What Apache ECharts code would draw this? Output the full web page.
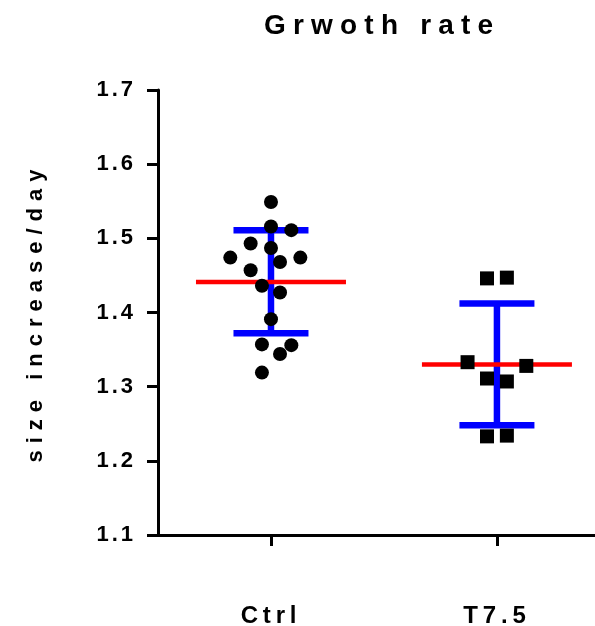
<!DOCTYPE html>
<html>
<head>
<meta charset="utf-8">
<script src="https://cdn.jsdelivr.net/npm/echarts@6/dist/echarts.min.js"></script>
<style>html,body{margin:0;padding:0;background:#fff}#c{width:595px;height:626px}</style>
</head>
<body>
<div id="c"></div>
<script>
// Letter spacing support: a font family token "lspN_M" sets N.M px spacing.
(function(){
  var P = CanvasRenderingContext2D.prototype;
  var of = P.fillText, om = P.measureText;
  function ap(ctx){ var m = /lsp(\d+)(?:_(\d+))?/.exec(ctx.font); ctx.letterSpacing = m ? (m[1] + (m[2] ? '.' + m[2] : '')) + 'px' : '0px'; }
  P.fillText = function(){ ap(this); return of.apply(this, arguments); };
  P.measureText = function(){ ap(this); return om.apply(this, arguments); };
})();

var titleText = 'Grwoth rate';
var yAxisName = 'size increase/day';
var categories = ['Ctrl', 'T7.5'];
var yTicks = { min: 1.1, max: 1.7, step: 0.1 };

var ctrlValues = [1.549, 1.516, 1.511, 1.493, 1.487, 1.474, 1.474, 1.468, 1.457, 1.436, 1.427, 1.391, 1.357, 1.356, 1.344, 1.319];
var ctrlJitter = [0, 0, 0.09, -0.09, 0, -0.18, 0.13, 0.04, -0.09, -0.04, 0.04, 0, -0.04, 0.09, 0.04, -0.04];
var t75Values = [1.446, 1.447, 1.333, 1.328, 1.311, 1.307, 1.233, 1.234];
var t75Jitter = [-0.044, 0.044, -0.13, 0.13, -0.044, 0.044, -0.044, 0.044];

var means = [1.441, 1.330];
var errLow = [1.372, 1.248];
var errHigh = [1.511, 1.412];

var FONT = "'Liberation Sans', Arial";
function ff(sp){ return FONT + ', lsp' + String(sp).replace('.', '_'); }

var ctrlData = ctrlValues.map(function(v, i){ return [1 + ctrlJitter[i], v]; });
var t75Data = t75Values.map(function(v, i){ return [2 + t75Jitter[i], v]; });
var errData = categories.map(function(c, i){ return [i + 1, errLow[i], errHigh[i]]; });
var meanData = categories.map(function(c, i){ return [i + 1, means[i]]; });

var chart = echarts.init(document.getElementById('c'), null, { renderer: 'canvas' });
chart.setOption({
  animation: false,
  backgroundColor: '#fff',
  title: {
    text: titleText,
    left: 264, top: 9, padding: 0,
    textStyle: { fontFamily: ff(7.2), fontSize: 28, fontWeight: 'bold', color: '#000' }
  },
  grid: { left: 158, right: 0, top: 90, bottom: 91, containLabel: false, outerBoundsMode: 'none' },
  xAxis: {
    type: 'value', min: 0.5, max: 2.434,
    splitLine: { show: false },
    axisLine: { show: true, lineStyle: { color: '#000', width: 3 } },
    axisTick: { show: true, customValues: [1, 2], length: 11, lineStyle: { color: '#000', width: 3 } },
    axisLabel: {
      customValues: [1, 2], margin: 67,
      formatter: function(v){ return categories[Math.round(v) - 1] || ''; },
      fontFamily: ff(4.8), fontSize: 24, fontWeight: 'bold', color: '#000'
    }
  },
  yAxis: {
    type: 'value', min: yTicks.min, max: yTicks.max, interval: yTicks.step,
    name: yAxisName, nameLocation: 'middle', nameRotate: 90, nameGap: 108,
    nameTextStyle: { fontFamily: ff(7), fontSize: 22, fontWeight: 'bold', color: '#000' },
    splitLine: { show: false },
    axisLine: { show: true, lineStyle: { color: '#000', width: 3 } },
    axisTick: { show: true, length: 11, lineStyle: { color: '#000', width: 3 } },
    axisLabel: {
      margin: 22,
      formatter: function(v){ return v.toFixed(1); },
      fontFamily: ff(3), fontSize: 22, fontWeight: 'bold', color: '#000'
    }
  },
  series: [
    { type: 'scatter', data: ctrlData, symbol: 'circle', symbolSize: 14, itemStyle: { color: '#000', opacity: 1 } },
    { type: 'scatter', data: t75Data, symbol: 'rect', symbolSize: 14, itemStyle: { color: '#000', opacity: 1 } },
    {
      type: 'custom', data: errData,
      renderItem: function(params, api){
        var x = api.value(0);
        var lo = api.coord([x, api.value(1)]);
        var hi = api.coord([x, api.value(2)]);
        var hw = 37.5;
        var st = { stroke: '#0000ff', lineWidth: 6.5 };
        return { type: 'group', children: [
          { type: 'line', shape: { x1: lo[0], y1: lo[1], x2: hi[0], y2: hi[1] }, style: st },
          { type: 'line', shape: { x1: lo[0] - hw, y1: lo[1], x2: lo[0] + hw, y2: lo[1] }, style: st },
          { type: 'line', shape: { x1: hi[0] - hw, y1: hi[1], x2: hi[0] + hw, y2: hi[1] }, style: st }
        ]};
      }
    },
    {
      type: 'custom', data: meanData,
      renderItem: function(params, api){
        var p = api.coord([api.value(0), api.value(1)]);
        var hw = 75;
        return { type: 'line', shape: { x1: p[0] - hw, y1: p[1], x2: p[0] + hw, y2: p[1] }, style: { stroke: '#ff0000', lineWidth: 4.5 } };
      }
    }
  ]
});
</script>
</body>
</html>
